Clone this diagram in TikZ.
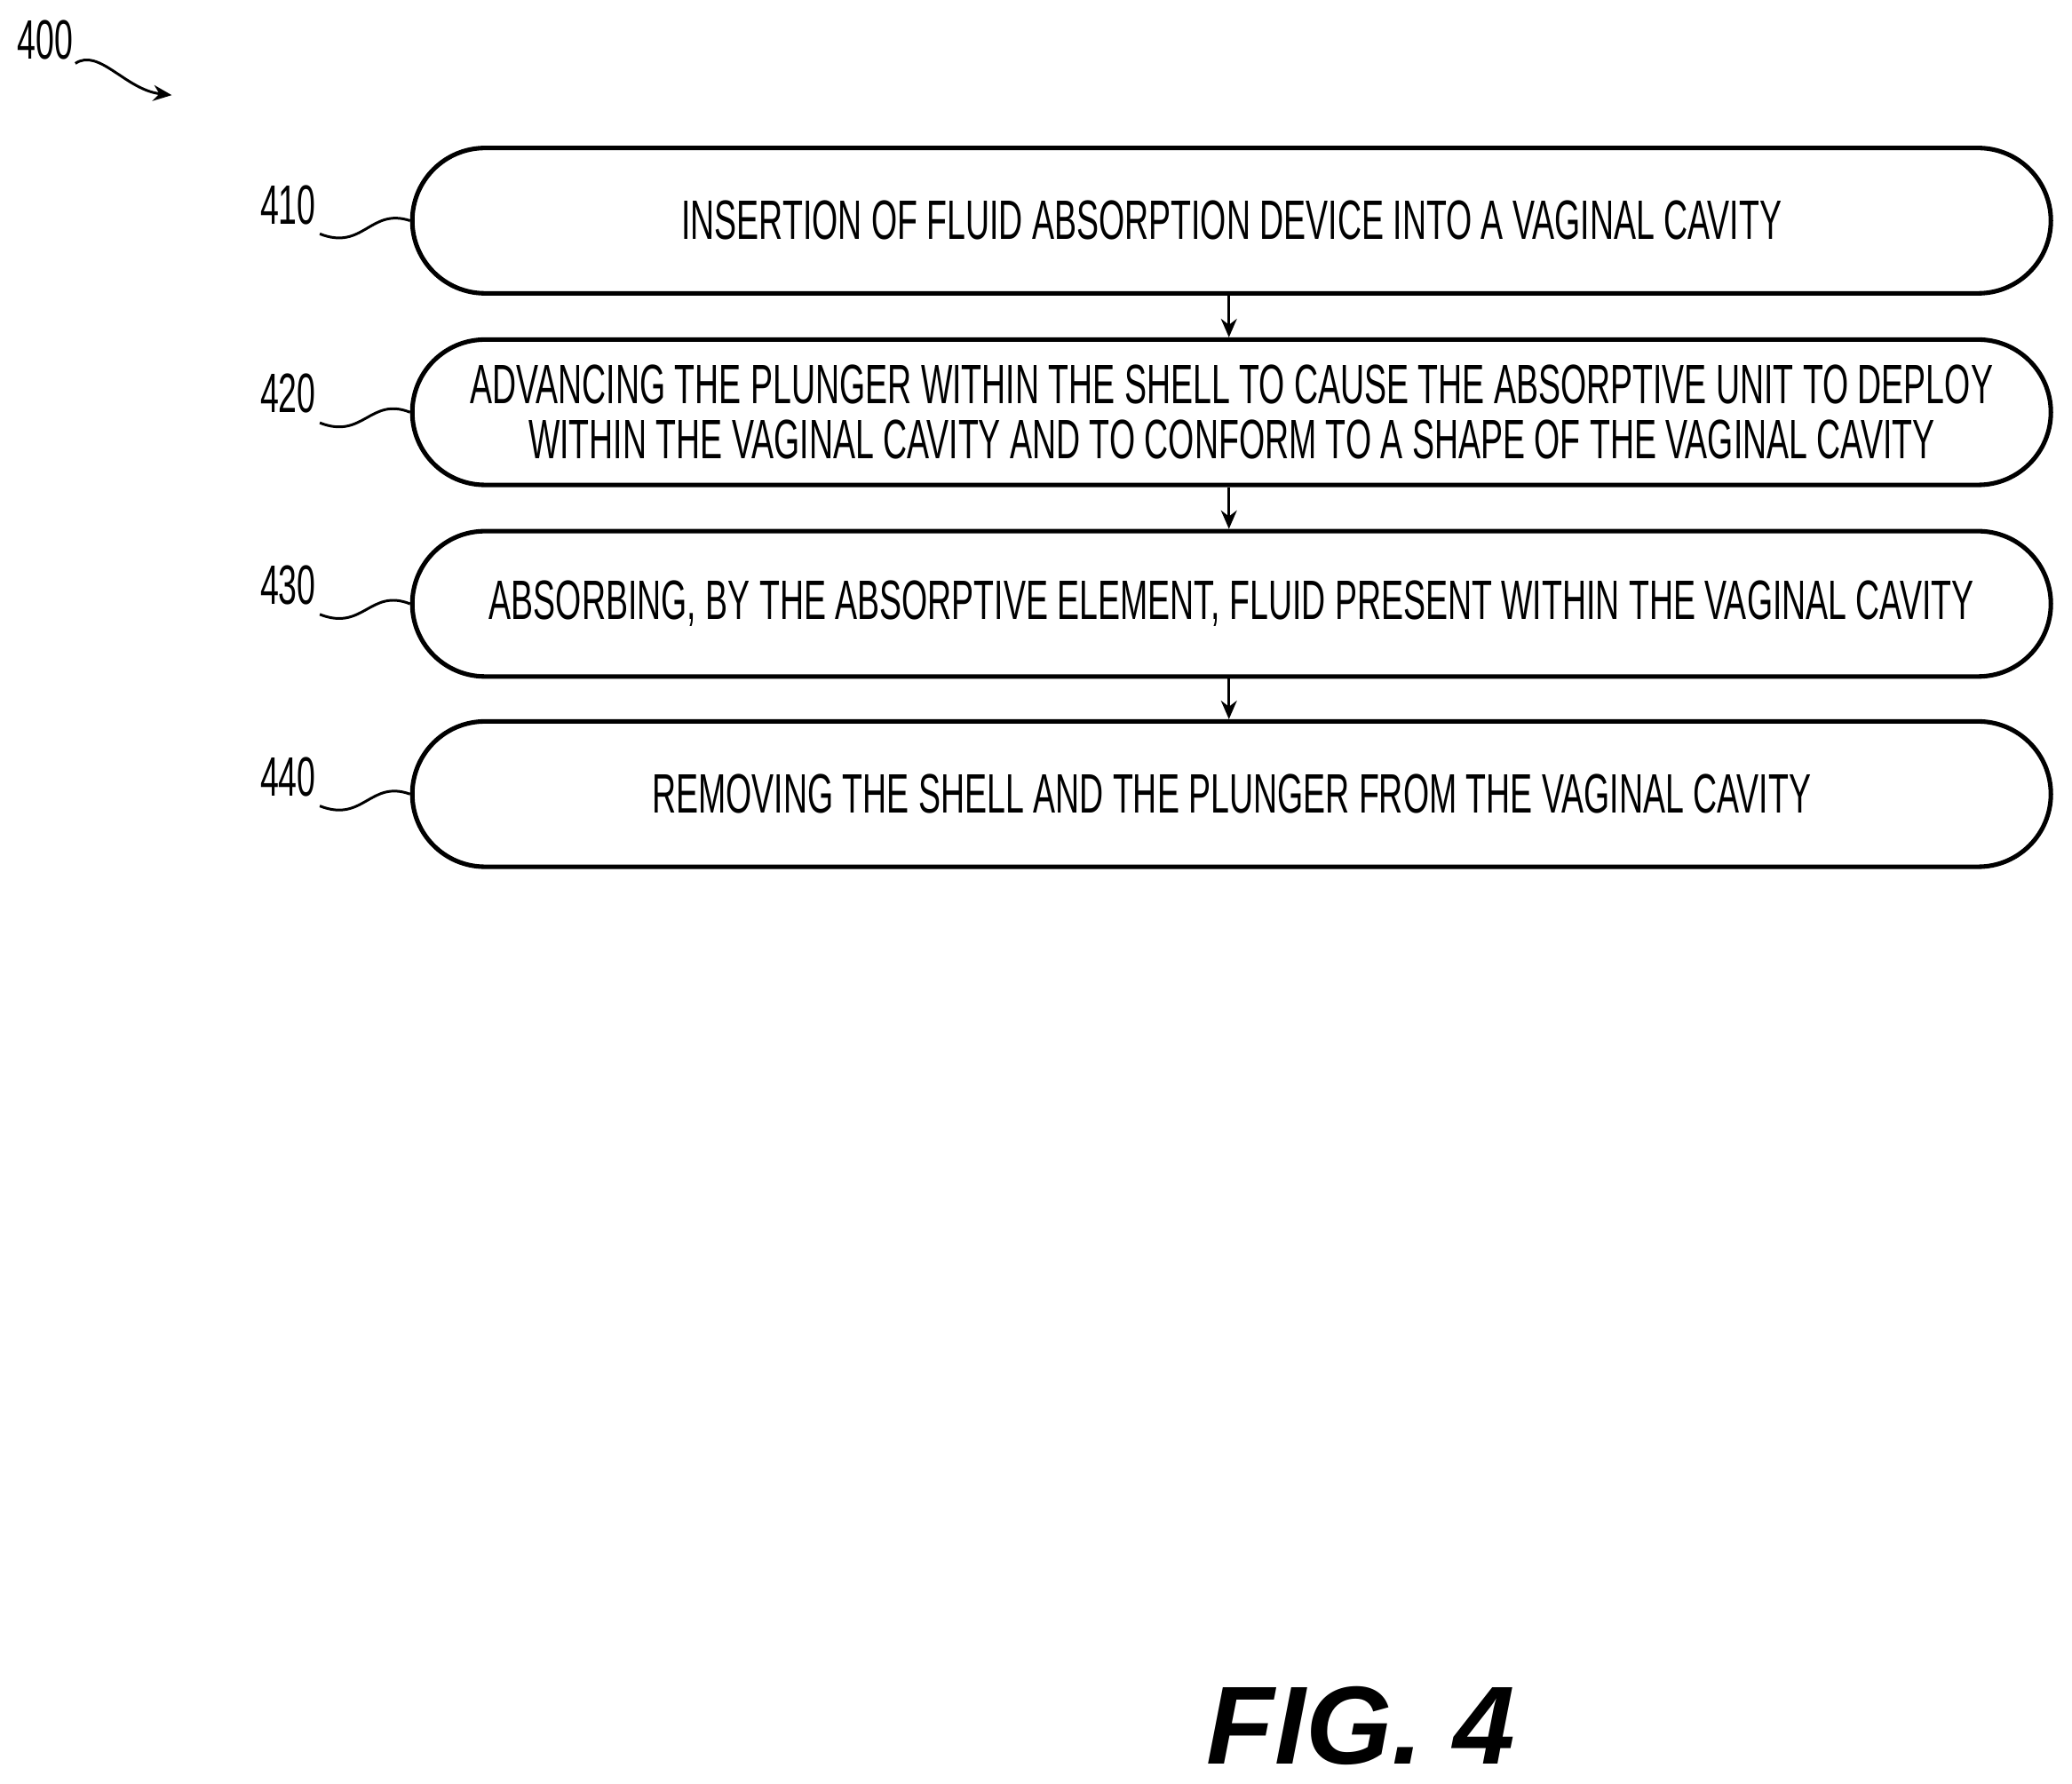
\documentclass[tikz,border=0pt]{standalone}
\usepackage{fontspec}
\setmainfont{Liberation Sans}
\newfontfamily\cond[FakeStretch=0.6]{Liberation Sans}
\usetikzlibrary{shapes.misc,arrows.meta}
\begin{document}
\begin{tikzpicture}[x=0.5pt,y=-0.5pt,
  stepbox/.style={rounded rectangle,draw,line width=1.7pt,minimum width=620pt,minimum height=55pt,inner sep=0pt,font=\cond\fontsize{21}{21}\selectfont,align=center},
  lab/.style={font=\cond\fontsize{21}{22}\selectfont,inner sep=0pt},
  arr/.style={-{Stealth[length=7pt,width=6pt]},line width=1pt},
  sq/.style={line width=1pt}]
\useasboundingbox (0,0) rectangle (1568,1350);
\node[stepbox] (s1) at (932,167) {INSERTION OF FLUID ABSORPTION DEVICE INTO A VAGINAL CAVITY};
\node[stepbox] (s2) at (932,312) {ADVANCING THE PLUNGER WITHIN THE SHELL TO CAUSE THE ABSORPTIVE UNIT TO DEPLOY\\[0pt]WITHIN THE VAGINAL CAVITY AND TO CONFORM TO A SHAPE OF THE VAGINAL CAVITY};
\node[stepbox] (s3) at (932,457) {ABSORBING, BY THE ABSORPTIVE ELEMENT, FLUID PRESENT WITHIN THE VAGINAL CAVITY};
\node[stepbox] (s4) at (932,601) {REMOVING THE SHELL AND THE PLUNGER FROM THE VAGINAL CAVITY};
\draw[arr] (s1.south -| 930,0) -- (s2.north -| 930,0);
\draw[arr] (s2.south -| 930,0) -- (s3.north -| 930,0);
\draw[arr] (s3.south -| 930,0) -- (s4.north -| 930,0);
\foreach \n/\t/\y in {1/410/155,2/420/298,3/430/443,4/440/588}{
  \node[lab] (l\n) at (218,\y) {\t};
  \coordinate (c\n) at (242,\y+22);
  \draw[sq] (c\n) .. controls (275,\y+35) and (280,\y+2) .. (s\n.west);
}
\node[lab] (l0) at (34,30) {400};
\coordinate (a0) at (130,72);
\draw[arr] (57,48) .. controls (75,36) and (95,68) .. (a0);
\node[font=\bfseries\itshape\fontsize{42}{44}\selectfont,inner sep=0pt] (fig) at (1030,1306) {FIG. 4};
\end{tikzpicture}
\end{document}
